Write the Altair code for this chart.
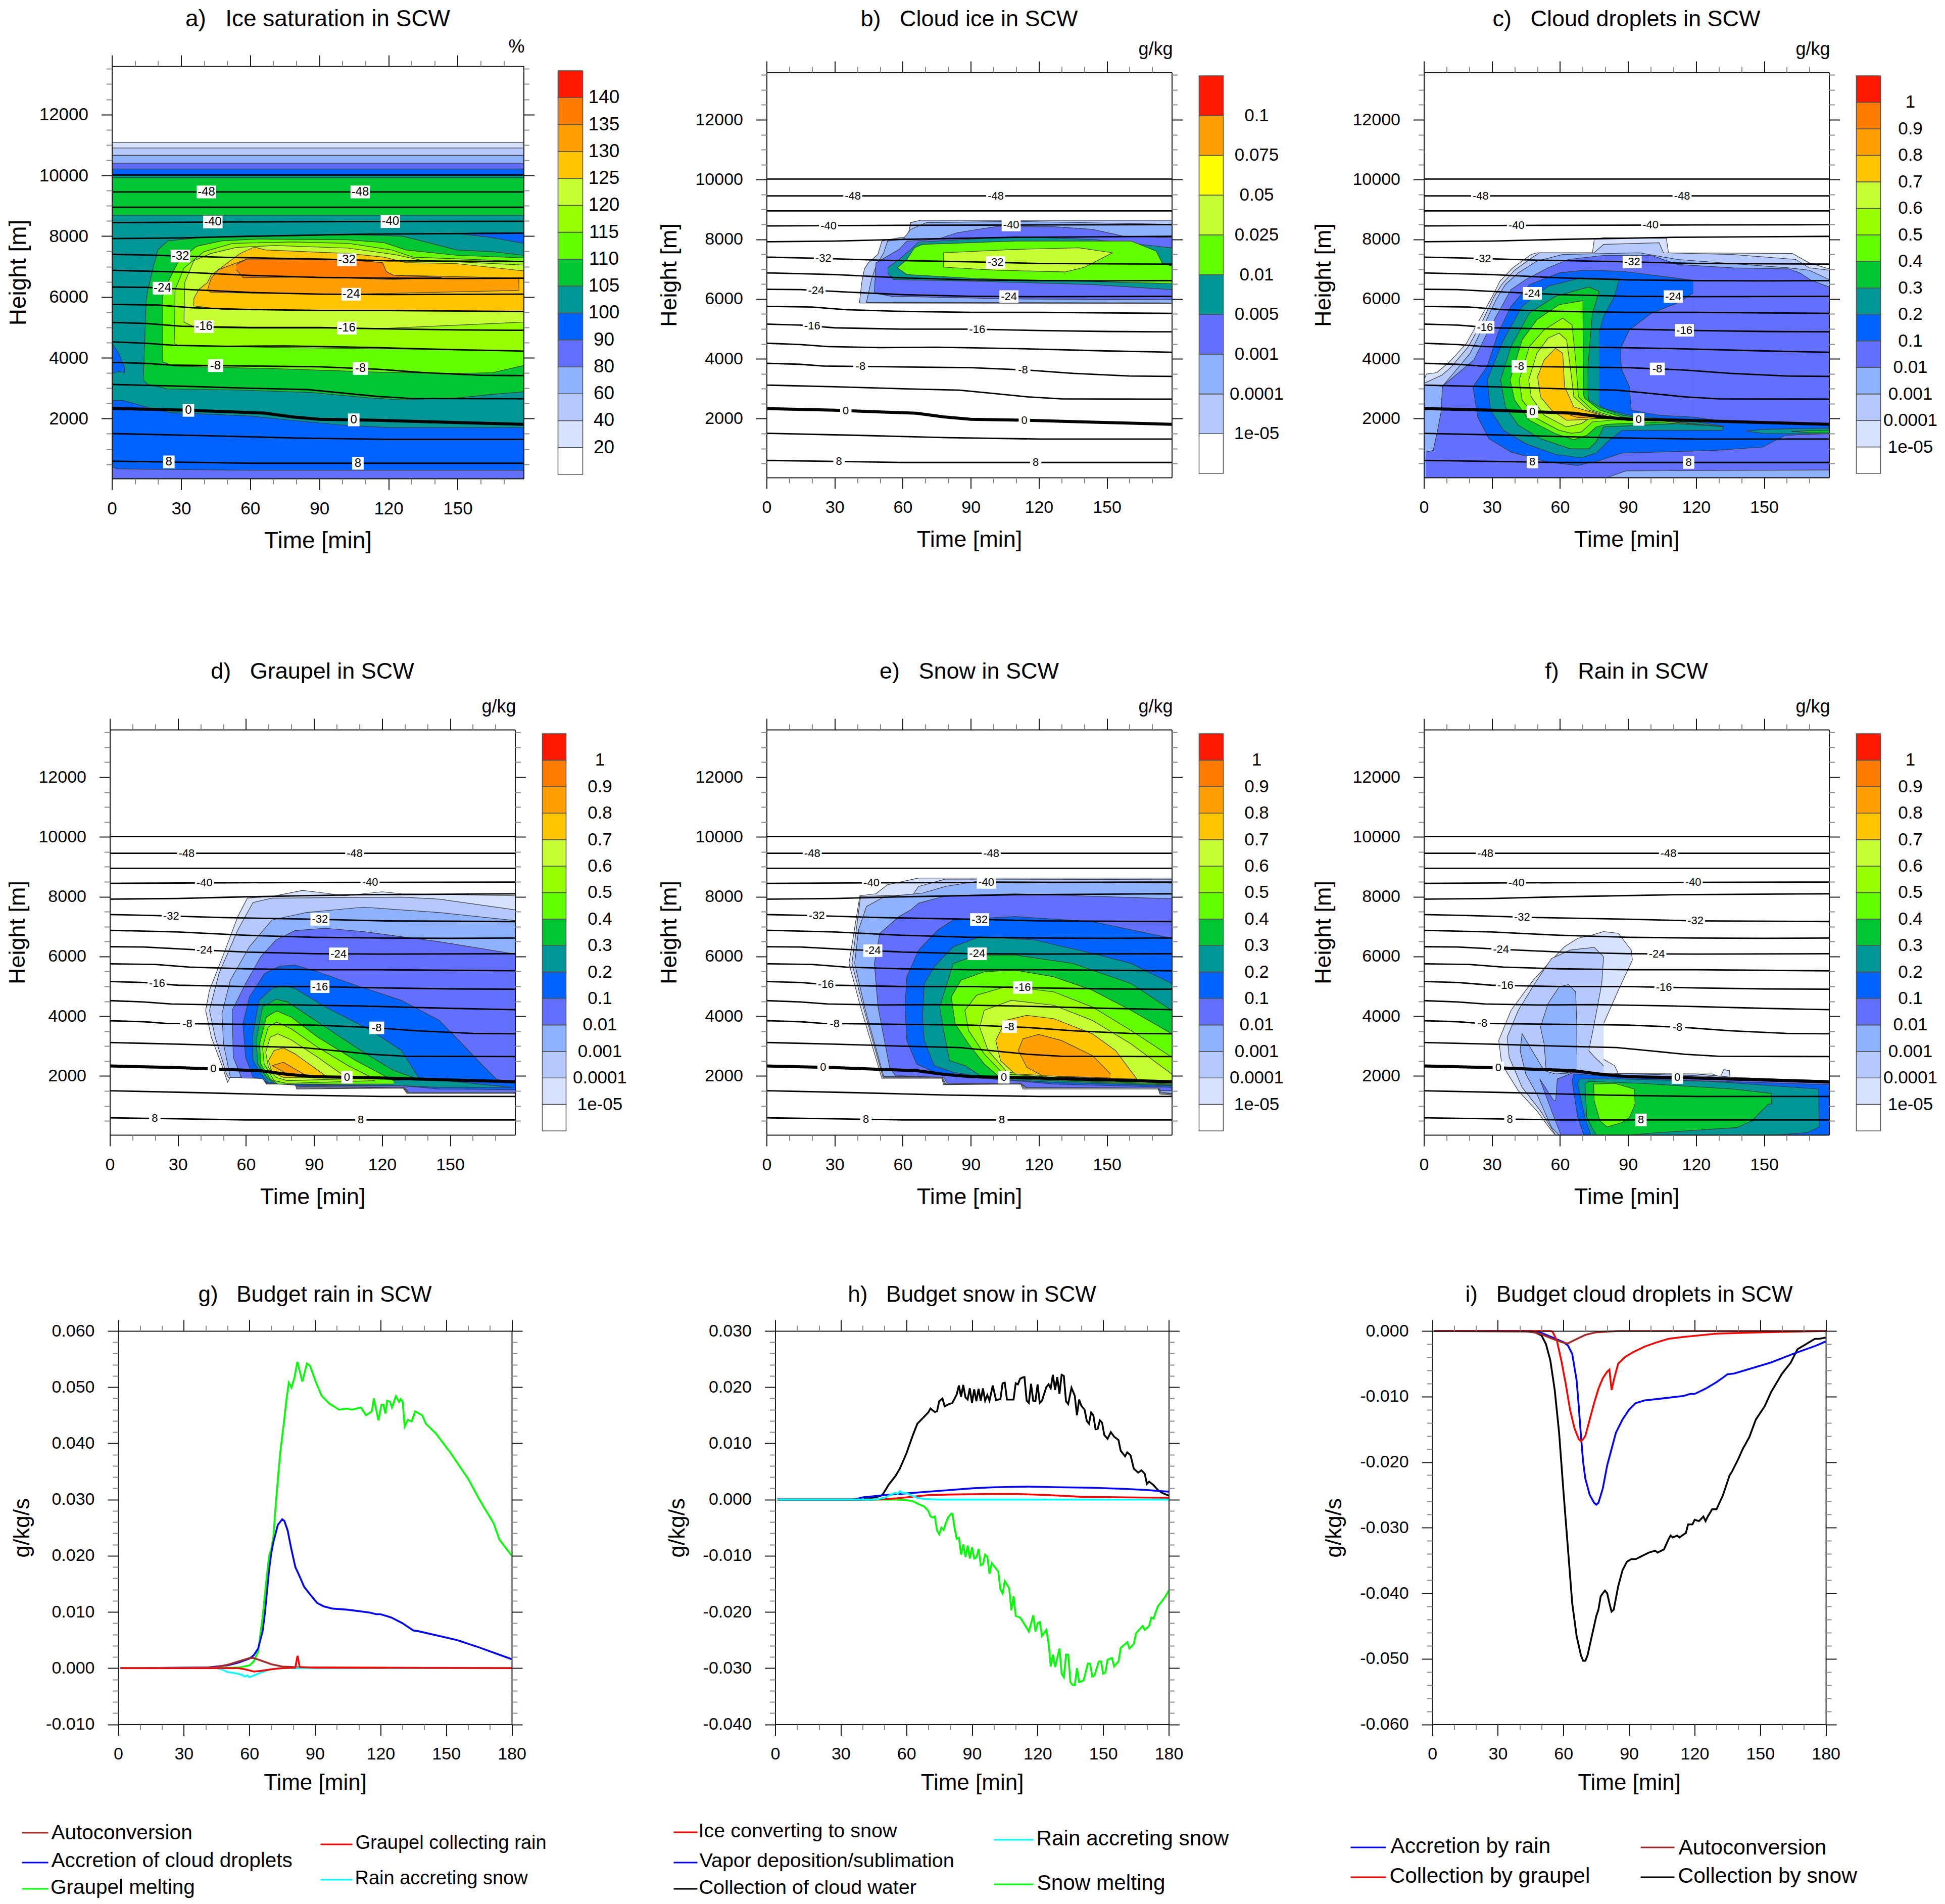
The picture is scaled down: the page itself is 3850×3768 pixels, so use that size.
import altair as alt
import numpy as np
import pandas as pd

FONT = "Liberation Sans"
LEVEL = ["#FFFFFF", "#D6E2FF", "#B5C9FF", "#8EB2FF", "#6370FF", "#0063FF", "#009696", "#00C633",
         "#63FF00", "#96FF00", "#C6FF33", "#FFC600", "#FFA000", "#FF7C00", "#FF1900"]
CB_B = ["#FFFFFF", "#B5C9FF", "#8EB2FF", "#6370FF", "#009696", "#63FF00", "#C6FF33", "#FFFF00", "#FFA000", "#FF1900"]
LAB_A = ["20", "40", "60", "80", "90", "100", "105", "110", "115", "120", "125", "130", "135", "140"]
LAB_B = ["1e-05", "0.0001", "0.001", "0.005", "0.01", "0.025", "0.05", "0.075", "0.1"]
LAB_C = ["1e-05", "0.0001", "0.001", "0.01", "0.1", "0.2", "0.3", "0.4", "0.5", "0.6", "0.7", "0.8", "0.9", "1"]

TEMP = {
    -52: [(0, 10015), (178.6, 10015)],
    -48: [(0, 9455), (178.6, 9455)],
    -44: [(0, 8950), (178.6, 8950)],
    -40: [(0, 8446), (60, 8470), (120, 8480), (178.6, 8490)],
    -36: [(0, 7919), (30, 7941), (60, 7997), (110, 8065), (178.6, 8098)],
    -32: [(0, 7403), (20, 7370), (50, 7302), (90, 7246), (120, 7190), (178.6, 7168)],
    -28: [(0, 6876), (30, 6820), (60, 6708), (90, 6641), (120, 6618), (150, 6607), (178.6, 6618)],
    -24: [(0, 6327), (15, 6316), (35, 6237), (60, 6148), (90, 6092), (120, 6080), (178.6, 6092)],
    -20: [(0, 5755), (20, 5733), (35, 5643), (60, 5587), (90, 5554), (120, 5554), (178.6, 5520)],
    -16: [(0, 5161), (15, 5128), (30, 5038), (60, 4993), (90, 4993), (120, 4948), (150, 4915), (178.6, 4903)],
    -12: [(0, 4522), (15, 4477), (27, 4410), (50, 4377), (75, 4388), (110, 4343), (150, 4264), (178.6, 4220)],
    -8: [(0, 3850), (15, 3816), (25, 3760), (50, 3737), (90, 3704), (115, 3625), (135, 3513), (160, 3424), (178.6, 3412)],
    -4: [(0, 3121), (30, 3065), (60, 2998), (85, 2953), (100, 2841), (115, 2729), (130, 2661), (178.6, 2650)],
    0: [(0, 2336), (30, 2280), (50, 2224), (66, 2179), (78, 2056), (90, 1978), (115, 1944), (140, 1888), (178.6, 1809)],
    4: [(0, 1507), (40, 1440), (80, 1361), (120, 1316), (178.6, 1316)],
    8: [(0, 600), (30, 567), (60, 531), (178.6, 531)],
}

TL_A = [(-48, 41), (-48, 107.7), (-40, 43.8), (-40, 120.8), (-32, 29.7), (-32, 101.9), (-24, 21.9), (-24, 103.8),
        (-16, 39.9), (-16, 101.9), (-8, 44.9), (-8, 107.8), (0, 33.2), (0, 104.9), (8, 24.7), (8, 106.7)]
TL_B = [(-48, 38), (-48, 101), (-40, 27.3), (-40, 107.8), (-32, 25), (-32, 100.9), (-24, 21.8), (-24, 106.8),
        (-16, 20.1), (-16, 92.8), (-8, 41.4), (-8, 113), (0, 34.9), (0, 113.6), (8, 31.9), (8, 118.6)]
TL_C = [(-48, 25), (-48, 113.8), (-40, 40.8), (-40, 99.9), (-32, 26.1), (-32, 91.8), (-24, 47.8), (-24, 109.9),
        (-16, 26.9), (-16, 114.8), (-8, 42), (-8, 102.9), (0, 47.8), (0, 94.7), (8, 47.8), (8, 116.7)]
TL_D = [(-48, 33.8), (-48, 107.9), (-40, 41.7), (-40, 114.7), (-32, 27), (-32, 92.6), (-24, 41.7), (-24, 100.8),
        (-16, 20.8), (-16, 92.6), (-8, 34.2), (-8, 117.6), (0, 45.6), (0, 104.5), (8, 19.8), (8, 110.6)]
TL_E = [(-48, 20.1), (-48, 99), (-40, 46.2), (-40, 96.8), (-32, 22.1), (-32, 93.9), (-24, 46.8), (-24, 92.8),
        (-16, 26.1), (-16, 112.9), (-8, 30), (-8, 107), (0, 24.9), (0, 104.6), (8, 43.8), (8, 103.7)]
TL_F = [(-48, 27.1), (-48, 107.8), (-40, 40.8), (-40, 118.7), (-32, 43.3), (-32, 119.7), (-24, 34), (-24, 102.7),
        (-16, 35.9), (-16, 105.8), (-8, 25.8), (-8, 111.8), (0, 32.8), (0, 111.7), (8, 37.9), (8, 95.7)]

T_END = 178.6
Z0 = 28


def flat(z, lo=Z0):
    return [(0, z), (T_END, z)], [(0, lo), (T_END, lo)]


# each entry: (colour level, upper edge [(t, z)...], lower edge [(t, z)...])
POLY_A = [
    (1, *flat(11088)), (2, *flat(10898)), (3, *flat(10660)), (4, *flat(10400)),
    (5, [(0, 10209), (T_END, 10209)], [(0, 420), (2, 350), (10, 337), (60, 300), (T_END, 300)]),
    (6, [(0, 9995), (T_END, 9995)], [(0, 2594), (5, 2594), (15, 2380), (25, 2200), (60, 2083), (75, 1964), (100, 1786), (120, 1703), (T_END, 1703)]),
    (7, [(0, 9924), (T_END, 9924)], [(0, 8689), (T_END, 8689)]),
    (5, [(0, 4480), (3, 4150), (5.4, 3700), (5.5, 3600)], [(0, 3480), (3, 3550), (5.4, 3510), (5.5, 3600)]),
    (5, [(150, 8080), (160, 8110), (T_END, 8118)], [(150, 8080), (160, 8000), (165, 7950), (T_END, 7762)]),
    (7, [(13.6, 3271), (14.9, 5885), (15.6, 6241), (18.3, 7073), (19.9, 7548), (24.3, 7845), (40, 7964), (71, 8000), (102.5, 8047), (126, 8000), (138.5, 7762), (149.5, 7548), (165, 7489), (T_END, 7370)],
     [(13.6, 3271), (15.6, 3128), (24, 2974), (55, 2938), (86.9, 2855), (111.9, 2677), (126, 2617), (149.5, 2677), (165, 2796), (T_END, 2879)]),
    (8, [(21.9, 3865), (21.95, 6003), (24.3, 6479), (29, 7192), (36.8, 7667), (47.7, 7845), (63.4, 7904), (102.5, 7880), (118, 7786), (127.5, 7548), (149.5, 7370), (T_END, 7286)],
     [(21.9, 3865), (27, 3723), (71, 3640), (118, 3520), (149.5, 3485), (165, 3510), (T_END, 3746)]),
    (9, [(27, 4470), (27.2, 5053), (27.4, 6241), (31.3, 6954), (39.9, 7489), (52.4, 7762), (79, 7809), (102.5, 7762), (121.3, 7548), (130.7, 7310), (T_END, 7168)],
     [(27, 4470), (29, 4400), (71, 4340), (134, 4280), (T_END, 4221)]),
    (10, [(31.3, 5172), (31.35, 5647), (31.6, 6480), (35.5, 7192), (43, 7429), (54, 7631), (71, 7691), (102.5, 7607), (122.8, 7393), (133.8, 7215), (T_END, 7049)],
     [(31.3, 5172), (36, 5000), (60, 4970), (120, 4970), (T_END, 5172)]),
    (11, [(35.5, 5706), (35.55, 5944), (37.6, 6241), (41.5, 6479), (43, 6716), (55.6, 7429), (61.8, 7643), (66.5, 7548), (102.5, 7429), (118, 7310), (127.5, 7132), (149.5, 7096), (T_END, 6859)],
     [(35.5, 5706), (47.7, 5590), (102.5, 5552), (T_END, 5528)]),
    (12, [(41.5, 6241), (43, 6600), (46.2, 6895), (58.7, 7250), (102.5, 7215), (117.4, 7132), (119, 6835), (122, 6716), (176.5, 6621), (176.6, 6217)],
     [(41.5, 6241), (43, 6146), (102.5, 6087), (176.5, 6217), (176.6, 6217)]),
    (13, [(54, 7073), (58.7, 7250), (102.5, 7215), (117.4, 7132), (119, 6835), (122, 6716), (143, 6640)],
     [(54, 6895), (57, 6633), (86.9, 6657), (122, 6574), (143, 6640)]),
]

POLY_B = [
    (2, [(40.9, 5867), (41.9, 6540), (43.1, 7011), (44.8, 7213), (49, 7493), (50.8, 7941), (56.7, 8031), (62.2, 8087), (63.5, 8558), (67.8, 8636), (T_END, 8636)],
     [(40.9, 5867), (T_END, 5856)]),
    (3, [(44, 5890), (46.2, 6652), (48.2, 7100), (51.6, 7549), (53.3, 7941), (60.1, 7997), (63.5, 8333), (70.4, 8558), (109.5, 8600), (T_END, 8502)],
     [(44, 5890), (T_END, 5870)]),
    (4, [(47.4, 6204), (47.8, 6652), (48.2, 7213), (58.4, 7661), (61.8, 7941), (75, 7997), (84, 8221), (101, 8423), (126.6, 8423), (143.6, 8333), (157, 8109), (T_END, 8053)],
     [(47.4, 6204), (55, 6092), (109.5, 6002), (T_END, 5980)]),
    (6, [(53.3, 7045), (58.4, 7325), (63.5, 7661), (67, 7908), (109.5, 8087), (143.6, 7997), (T_END, 7717)],
     [(53.3, 6876), (55.9, 6652), (92.5, 6596), (143.6, 6484), (T_END, 6316)]),
    (8, [(57.6, 7045), (61.8, 7325), (65.2, 7717), (68.7, 7829), (109.5, 7941), (160.6, 7941), (171.7, 7605), (174.3, 7213), (T_END, 7101)],
     [(57.6, 7045), (61.8, 6820), (92.5, 6686), (T_END, 6517)]),
    (10, [(77.9, 7067), (78, 7549), (109.5, 7661), (137.6, 7717), (152.5, 7549)],
     [(77.9, 7067), (101, 6966), (131.7, 6910), (140.2, 7067), (152.5, 7549)]),
]

POLY_C = [
    (1, [(0, 3289), (1.1, 3491), (5.7, 3536), (11.4, 3906), (18.8, 4522), (25.3, 5419), (30.2, 6092), (33.5, 6596), (39.2, 7045), (47.3, 7493), (49.8, 7549), (74.3, 7549), (75.1, 7997), (79.2, 8053), (106.9, 8031), (107.8, 7549), (162.4, 7527), (169.8, 7213), (T_END, 7011)], [(0, Z0), (T_END, Z0)]),
    (2, [(0, 3180), (8, 3457), (12.2, 3738), (19.6, 4410), (26.1, 5307), (31, 6092), (34.3, 6484), (40, 6966), (48.2, 7415), (51, 7549), (75, 7549), (79.2, 7829), (103.7, 7885), (105.6, 7549), (136, 7493), (164, 7325), (169.8, 7045), (T_END, 6966)], [(0, Z0), (T_END, Z0)]),
    (3, [(0, 3120), (8.2, 3087), (13, 3513), (20.4, 4186), (26.9, 5195), (31.8, 5980), (35.9, 6484), (41.6, 6876), (49.8, 7269), (61.2, 7493), (95, 7549), (111.8, 7325), (160.8, 7045), (169.8, 6966), (T_END, 6652)], [(0, Z0), (T_END, Z0)]),
    (4, [(0.8, 880), (4.1, 935), (5.7, 1490), (7.5, 2180), (8.2, 3087), (22, 3962), (28.6, 4971), (33.5, 5643), (38.4, 6316), (44.9, 6652), (54.7, 7045), (63.7, 7325), (79.2, 7460), (100.4, 7460), (111.8, 7157), (136.3, 7045), (160.8, 7011), (165.7, 6876), (170.6, 6630), (T_END, 6406)],
     [(0.8, Z0), (80.8, Z0), (89, 250), (T_END, 280)]),
    (5, [(21.6, 3065), (27.8, 3738), (32.7, 4859), (38.4, 5755), (46.5, 6484), (59.6, 6876), (71, 6966), (87.3, 6932), (118.7, 6630), (118.7, 2050), (128.2, 1944), (T_END, 1776)],
     [(21.6, 3065), (23.7, 2056), (28.6, 1327), (38.4, 879), (54.7, 543), (67.8, 431), (77.6, 599), (87.3, 845), (103.7, 879), (128.2, 935), (149.4, 1047), (159.2, 1440), (T_END, 1495)]),
    (4, [(86.5, 4100), (87, 4400), (90.6, 4971), (100.4, 5531), (111.8, 5868), (118.7, 6204)],
     [(86.5, 4100), (87.3, 3625), (90.6, 3065), (91.4, 2280), (103.7, 2112), (118.7, 2050)]),
    (6, [(27.9, 3289), (35.1, 4634), (43.3, 5755), (54.7, 6428), (69.4, 6708), (86.2, 6675), (86.2, 2200), (90.6, 2112), (120, 1888), (132.2, 1742)],
     [(27.9, 3289), (29.4, 2280), (35.1, 1608), (44.9, 1159), (58, 801), (69.4, 688), (75.9, 845), (80.8, 1215), (87.3, 1608), (131.4, 1608), (132.2, 1742)]),
    (5, [(74.6, 3400), (75.1, 4298), (79.2, 5419), (84, 6092), (86.2, 6675)],
     [(74.6, 3400), (74.7, 2617), (79.2, 2336), (86.2, 2200)]),
    (6, [(142, 1580), (150, 1640), (T_END, 1680)], [(142, 1580), (150, 1500), (T_END, 1490)]),
    (7, [(33.8, 3289), (38.4, 4410), (46.5, 5531), (58, 6092), (72.7, 6406), (77.2, 6260), (77.2, 2392), (87.3, 2112), (103.7, 1944), (132.2, 1730)],
     [(33.8, 3289), (35.9, 2392), (41.6, 1776), (51.4, 1327), (64.5, 991), (72.7, 991), (75.9, 1215), (79.2, 1720), (111.8, 1832), (132.2, 1730)]),
    (6, [(72.3, 3738), (74.3, 5531), (77.2, 6260)], [(72.3, 3738), (72.4, 2800), (72.7, 2617), (77.2, 2392)]),
    (7, [(162, 1570), (170, 1600), (T_END, 1610)], [(162, 1570), (170, 1530), (T_END, 1520)]),
    (8, [(38, 3289), (43.3, 4634), (49.8, 5307), (59.6, 5811), (70.1, 5946), (70.3, 2800), (71, 2673), (77.6, 2280), (87.3, 2056), (102, 1944), (123.3, 1775)],
     [(38, 3289), (40, 2617), (46.5, 1944), (58, 1495), (66.1, 1294), (71.8, 1440), (75.9, 1720), (80.8, 1809), (102, 1880), (123.3, 1775)]),
    (9, [(42, 3289), (46.5, 4410), (53, 4971), (61.2, 5363), (65.3, 5139), (66.9, 3962), (68.1, 2729), (74.3, 2280), (84, 2056), (102, 1930)],
     [(42, 3289), (43.3, 2617), (49.8, 2000), (59.6, 1608), (65, 1510), (69.4, 1551), (74.3, 1888), (85, 1960), (102, 1930)]),
    (10, [(46.2, 3289), (49.8, 4186), (54.7, 4690), (59.6, 4859), (62.9, 4634), (64.5, 3738), (66.1, 2729), (72.7, 2280), (84, 2000)],
     [(46.2, 3289), (47.3, 2729), (53, 2112), (62.8, 1720), (69.4, 1832), (72.7, 2000), (84, 2000)]),
    (11, [(50.1, 3401), (53, 3962), (58, 4354), (61.2, 4186), (62, 3065), (66.1, 2392), (80.8, 2056)],
     [(50.1, 3401), (51.4, 2729), (56.3, 2280), (62.9, 1944), (71, 1966), (80.8, 2056)]),
    (12, [(64.5, 2112), (68, 2170), (75, 2140), (78, 2090)], [(64.5, 2112), (68, 2030), (75, 2056), (78, 2090)]),
]

POLY_D = [
    (1, [(42.2, 4197), (43.9, 4870), (49.7, 5991), (56.4, 7336), (60.6, 7953), (71.5, 8009), (84.9, 8210), (95, 8120), (103.4, 8031), (120.1, 8166), (128.5, 8098), (T_END, 8031)],
     [(42.2, 4197), (44.7, 3300), (49.7, 2291), (51.9, 1787), (53, 1955), (67.3, 1933), (69, 1731), (81.6, 1731), (82.4, 1563), (129.3, 1596), (131, 1417), (T_END, 1417)]),
    (2, [(43.9, 4197), (48.1, 5430), (56.4, 6888), (63.1, 7807), (71.5, 7953), (128.5, 7986), (145.2, 7919), (T_END, 7560)],
     [(43.9, 4197), (46.4, 3300), (51.4, 2067), (52.3, 1955), (67.3, 1933), (69, 1753), (81.6, 1753), (82.4, 1585), (129.3, 1618), (131, 1451), (T_END, 1451)]),
    (3, [(49.4, 4085), (53.1, 5206), (61.5, 6327), (71.5, 7224), (86.6, 7471), (111.7, 7650), (145.2, 7471), (T_END, 7202)],
     [(49.4, 4085), (50.1, 3076), (53.1, 1955), (67.3, 1933), (69, 1776), (81.6, 1776), (82.8, 1618), (129.3, 1640), (131, 1473), (T_END, 1473)]),
    (4, [(53.9, 4197), (59.8, 5094), (66.5, 5991), (73.2, 6551), (81.6, 6865), (95, 6944), (111.7, 6832), (145.2, 6495), (T_END, 6080)],
     [(53.9, 4197), (54.4, 2628), (58.1, 1933), (67.3, 1922), (69, 1753), (81.6, 1731), (82.8, 1640), (130, 1618), (131.7, 1451), (T_END, 1451)]),
    (5, [(58.6, 3749), (61.5, 4645), (68.2, 5430), (74.9, 5677), (81.6, 5711), (91.6, 5486), (108.4, 5038), (128.5, 4533), (145.2, 3861), (155.3, 3076), (163.7, 2404), (170.4, 1899), (T_END, 1753)],
     [(58.6, 3749), (59.8, 2628), (63.1, 1955), (67.3, 1900), (69.5, 1753), (81.6, 1697), (84.9, 1664), (128.5, 1675), (145.2, 1563), (T_END, 1540)]),
    (6, [(62.8, 3300), (65.7, 4533), (71.5, 4926), (76.5, 5027), (81.6, 4926), (95, 4309), (115.1, 3525), (128.5, 2852), (136, 1955), (145.2, 1865), (177, 1619)],
     [(62.8, 3300), (63.1, 2516), (66.5, 2067), (69.8, 1787), (86.6, 1709), (128.5, 1675), (145.2, 1619), (177, 1619)]),
    (7, [(64.5, 3188), (67.3, 4309), (73.2, 4567), (78.2, 4477), (95, 3637), (111.7, 2796), (125.1, 2179), (136, 1899)],
     [(64.5, 3188), (65.2, 2404), (69, 1955), (72.4, 1765), (95, 1709), (136, 1899)]),
    (8, [(66, 3076), (69, 3973), (73.5, 4175), (79.9, 3973), (91.6, 3300), (108.4, 2516), (125.1, 1843)],
     [(66, 3076), (66.5, 2404), (70.7, 1899), (74, 1731), (125.1, 1731)]),
    (9, [(67.3, 2964), (69.8, 3637), (73.5, 3805), (79.9, 3581), (91.6, 2964), (105, 2347), (116.8, 1899)],
     [(67.3, 2964), (68, 2404), (72.4, 1843), (78.2, 1753), (116.8, 1843)]),
    (10, [(68.7, 2796), (70.7, 3300), (74, 3412), (79.9, 3211), (91.6, 2628), (102.5, 2045)],
     [(68.7, 2796), (69.9, 2291), (73.2, 1955), (78.2, 1843), (102.5, 1900)]),
    (11, [(69.9, 2516), (72.4, 2852), (76.5, 2942), (81.6, 2740), (95, 2011)],
     [(69.9, 2516), (71.5, 2123), (76.5, 1955), (95, 1955)]),
    (12, [(71.5, 2348), (76.5, 2460), (81.6, 2235), (86.6, 2011)], [(71.5, 2348), (78.2, 2067), (86.6, 2000)]),
]

POLY_E = [
    (1, [(36.3, 5767), (41.1, 8031), (48.2, 8098), (53.3, 8401), (67, 8625), (T_END, 8625)],
     [(36.3, 5767), (41.4, 4309), (50.8, 1922), (77.2, 1922), (78, 1709), (112, 1731), (113, 1563), (172.6, 1563), (173.4, 1395), (T_END, 1361)]),
    (2, [(37.6, 5767), (41.4, 8009), (64.4, 8064), (67, 8345), (78.9, 8592), (T_END, 8570)],
     [(37.6, 5767), (42.6, 4309), (51.3, 1955), (77.2, 1955), (78.4, 1731), (112, 1753), (113.4, 1596), (172.6, 1596), (173.4, 1428), (T_END, 1395)]),
    (3, [(38.8, 5767), (40.5, 6888), (44, 7672), (51.6, 7986), (68.7, 8120), (78.9, 8345), (92.5, 8513), (T_END, 8457)],
     [(38.8, 5767), (43.2, 4309), (51.6, 1978), (77.2, 1978), (78.9, 1731), (112, 1776), (113.8, 1619), (172.6, 1619), (173.8, 1451), (T_END, 1417)]),
    (4, [(47.5, 5767), (49.9, 6776), (58.4, 7336), (63.5, 7560), (67, 7784), (78.9, 8031), (109.5, 8098), (T_END, 7930)],
     [(47.5, 5767), (49.1, 4309), (54.2, 2291), (56.7, 2011), (78, 1955), (79.7, 1753), (112, 1753), (114.6, 1619), (172.6, 1596), (173.8, 1507), (T_END, 1507)]),
    (5, [(61, 4309), (61.8, 5318), (67, 6215), (75.5, 6888), (82.3, 7224), (109.5, 7336), (143.6, 7168), (T_END, 6607)],
     [(61, 4309), (61.8, 3188), (66.1, 2404), (73.8, 2123), (84, 1978), (109.5, 1843), (126.6, 1731), (T_END, 1619)]),
    (6, [(68.7, 3973), (69.5, 5094), (73.8, 5654), (82.3, 6327), (94.2, 6664), (118, 6551), (143.6, 6103), (160.6, 5767), (T_END, 5094)],
     [(68.7, 3973), (69.5, 3188), (73.8, 2347), (82.3, 2123), (101, 1899), (126.6, 1787), (T_END, 1675)]),
    (7, [(76.3, 4309), (82.3, 5767), (92.5, 6047), (109.5, 6047), (135, 5767), (160.6, 5094), (T_END, 4197)],
     [(76.3, 4309), (78, 3525), (80.6, 2516), (87.4, 2347), (94.2, 2011), (109.5, 1899), (143.6, 1787), (T_END, 1697)]),
    (8, [(81.4, 4646), (85.7, 5206), (95.9, 5486), (109.5, 5542), (126.6, 5318), (143.6, 4870), (160.6, 4197), (T_END, 3412)],
     [(81.4, 4646), (83.1, 3749), (89, 3076), (95.9, 2404), (102.7, 1955), (143.6, 1820), (T_END, 1731)]),
    (9, [(87.4, 4197), (92.5, 4702), (106.1, 5004), (126.6, 4814), (143.6, 4309), (160.6, 3525), (T_END, 2628)],
     [(87.4, 4197), (89, 3525), (95.9, 2740), (104.4, 2067), (143.6, 1865), (T_END, 1753)]),
    (10, [(93.9, 3637), (95.9, 4197), (107.8, 4533), (126.6, 4365), (143.6, 3861), (160.6, 3076), (T_END, 2067)],
     [(93.9, 3637), (97.6, 2852), (106.1, 2123), (143.6, 1899), (T_END, 1843)]),
    (11, [(101, 3188), (105.3, 3861), (114.6, 4029), (126.6, 3917), (143.6, 3412), (153.8, 2852), (163.2, 1899)],
     [(101, 3188), (103.1, 2516), (109.5, 2067), (143.6, 1933), (163.2, 1899)]),
    (12, [(110.9, 2852), (113, 3244), (119.8, 3390), (130, 3188), (143.6, 2684), (151.6, 2067)],
     [(110.9, 2852), (114.7, 2291), (121.5, 2011), (151.6, 1933)]),
]

POLY_F = [
    (1, [(33, 3188), (38.4, 4197), (48.2, 5206), (56.3, 5879), (62, 6327), (67.8, 6607), (74.3, 6720), (79.2, 6832), (85.7, 6776), (91.4, 6215), (91.9, 5879)],
     [(33, 3188), (34.3, 2404), (41.6, 1507), (49.8, 834), (56.3, 161), (58, Z0), (91.9, Z0)]),
    (0, [(76.7, 2964), (79.2, 3749), (85.7, 4870), (91.9, 5879)], [(76.7, 2964), (77.6, 2628), (84.1, 2348), (85.7, 2067), (91.9, 2067)]),
    (1, [(62, 1900), (85.7, 2067), (127.3, 2067), (130.6, 1955), (132.2, 2213), (134.7, 2179), (134.9, 1955), (T_END, 1843)], [(62, Z0), (T_END, Z0)]),
    (2, [(36.7, 3300), (41.6, 4197), (49.8, 5206), (56.3, 5935), (64.5, 6215), (75.1, 6305), (79.2, 5991)],
     [(36.7, 3300), (37.6, 2628), (43.3, 1619), (51.4, 834), (58, Z0), (79.2, Z0)]),
    (1, [(72.7, 2852), (75.1, 3749), (78.4, 5094), (79.2, 5991)], [(72.7, 2852), (75, 2650), (78.4, 2404), (79.2, 2330)]),
    (2, [(64.5, 2090), (120, 2067), (136.3, 1955), (T_END, 1820)], [(64.5, Z0), (T_END, Z0)]),
    (3, [(51.4, 3637), (54.7, 4421), (59.6, 4982), (63.7, 5060), (66.9, 4814), (67.4, 3749), (67.45, 2740)],
     [(51.4, 3637), (53, 3076), (53.9, 2179), (67.45, 2090)]),
    (3, [(42.4, 2852), (43.3, 3412), (53, 2179), (58, 2067), (67.8, 2123), (120, 2011), (136.3, 1922), (T_END, 1776)],
     [(42.4, 2852), (44.9, 2067), (49.8, 1395), (56.3, 274), (59.6, Z0), (T_END, Z0)]),
    (4, [(51.1, 1899), (57.3, 1170), (58.1, 1170), (58.8, 1899), (66.1, 2123), (87.3, 2011), (126.5, 1899), (T_END, 1753)],
     [(51.1, 1899), (56.3, 834), (60.4, Z0), (T_END, Z0)]),
    (5, [(65.3, 1843), (66.1, 2067), (87.3, 1955), (120, 1843), (T_END, 1709)], [(65.3, 1843), (67.8, 610), (70.5, Z0), (T_END, Z0)]),
    (6, [(67.8, 1731), (68.6, 1899), (87.3, 1899), (126.5, 1820), (173.9, 1563), (174.2, 498), (174.3, 300)],
     [(67.8, 1731), (71, 610), (73.5, Z0), (155.1, Z0), (169, 105), (174.3, 300)]),
    (7, [(71, 1731), (72.7, 1820), (95.5, 1753), (136.3, 1563), (153.1, 1417), (153.2, 1058)],
     [(71, 1731), (71.8, 610), (75.9, Z0), (90.6, Z0), (103.7, 105), (138, 274), (144.5, 498), (151.8, 1058), (153.2, 1058)]),
    (8, [(74.8, 1731), (84.1, 1753), (92.7, 1563), (93.1, 1058)],
     [(74.8, 1731), (75.1, 1170), (77.6, 498), (80.8, 296), (87.3, 442), (90.6, 610), (93.1, 1058)]),
]

G_GREEN = [(1, 0), (45, 0), (55, .0001), (60, .0005), (62, .0012), (64, .003), (66, .009), (68, .0165), (69, .02), (70, .0212), (71, .0235), (72, .029), (74, .038), (76, .0445), (77, .048), (78, .0508), (79.2, .0499), (80.6, .0517), (81.9, .0545), (84.2, .051), (86.3, .0542), (87.7, .0538), (90.3, .051), (93, .0485), (96.5, .0471), (101, .046), (104.5, .0462), (107, .046), (111, .0464), (113.3, .045), (116, .0457), (116.9, .048), (119, .0441), (120.4, .0469), (121.3, .0469), (122.2, .0453), (123, .0476), (124.3, .0474), (125.2, .0464), (127, .0484), (128.4, .0474), (129.2, .0479), (130.1, .0474), (131, .043), (132.4, .0442), (134.2, .0439), (135.8, .0457), (139, .045), (140.7, .0435), (145.2, .0418), (152.2, .0382), (155.8, .0361), (160.2, .0336), (164.6, .0304), (167.3, .0286), (171.7, .0258), (174.3, .0229), (180, .02)]
G_BLUE = [(1, 0), (40, .0001), (50, .0005), (55, .001), (60, .0017), (62, .0023), (64, .0035), (66, .0065), (67, .0095), (68, .0135), (69, .0175), (70, .0205), (71, .0225), (73, .0255), (75, .0265), (76, .0262), (77.5, .0245), (79, .0215), (81, .018), (83, .0163), (85, .0145), (88, .013), (91, .0116), (94, .011), (98, .0106), (105, .0104), (115, .0099), (118, .0096), (120, .0096), (125, .009), (130, .008), (135, .0067), (137, .0066), (145, .0059), (155, .005), (165, .0037), (175, .0023), (180, .0016)]
G_BROWN = [(1, 0), (40, .0001), (45, .0002), (50, .0006), (55, .0012), (60, .0018), (62, .0018), (65, .0014), (70, .0007), (75, .0003), (80, .0002), (85, .0001), (180, 0)]
G_RED = [(1, 0), (55, 0), (58, -.0002), (62, -.0006), (65, -.0005), (70, -.0002), (75, 0), (81, .0001), (82, .0022), (83, .0002), (90, .0001), (180, 0)]
G_CYAN = [(1, 0), (45, 0), (48, -.0003), (50, -.0007), (52, -.0008), (55, -.001), (57, -.0013), (58, -.0015), (59, -.0013), (60, -.0016), (62, -.0013), (65, -.0008), (68, -.0004), (70, -.0002), (75, 0), (180, 0)]

H_BLACK = [(1, 0), (40, 0), (47, .0005), (49, .0008), (52, .0027), (55, .0042), (57, .0055), (60, .0082), (63, .0115), (65, .0135), (68, .0147), (70, .0155), (71, .0162), (73, .0156), (74, .0157), (75, .0175), (76.5, .018), (77.5, .0166), (79, .0169), (81, .0172), (83, .0187), (84, .0203), (85, .0183), (86, .0204), (87, .0182), (88, .0178), (89, .0198), (90, .0172), (91, .0196), (92, .0175), (93, .0197), (94, .0176), (95, .0198), (96, .0176), (97, .0186), (98, .0176), (99.5, .0203), (101, .0177), (102, .0178), (103, .0179), (104, .0207), (105, .0208), (106, .0178), (107, .0178), (109, .0178), (110, .0207), (111, .0205), (112, .0215), (113, .0217), (114, .0218), (115, .0176), (116, .0172), (117, .0206), (118, .0176), (119, .0175), (120, .0205), (121, .0172), (122, .0176), (124, .02), (125, .0205), (126, .0198), (127, .0222), (128, .0195), (129, .0218), (130, .0188), (131, .0222), (132, .022), (133, .0175), (134, .017), (135.5, .0199), (137, .0185), (138, .015), (139, .0178), (140, .0167), (141.5, .016), (142.5, .014), (143.5, .0135), (144.5, .0155), (145.5, .015), (146.5, .0125), (147.5, .0126), (148.5, .0141), (149.5, .0137), (150.5, .0115), (152, .0108), (153.5, .012), (155, .0112), (157, .0106), (158, .0087), (160, .0077), (161, .0084), (162.5, .0079), (164, .0055), (166, .0048), (167.5, .0052), (169, .0046), (170, .0028), (171, .0032), (173, .0026), (175, .0017), (177, .0012), (180, .0007)]
H_BLUE = [(1, 0), (36, 0), (40, .0004), (50, .0008), (60, .0011), (70, .0014), (80, .0017), (90, .002), (100, .0022), (115, .0023), (130, .0022), (145, .0021), (160, .0019), (170, .0017), (180, .0014)]
H_RED = [(1, 0), (45, 0), (55, .0002), (60, .0004), (70, .0008), (80, .0009), (100, .001), (110, .001), (125, .0008), (140, .0005), (160, .0004), (180, .0003)]
H_CYAN = [(1, 0), (45, 0), (50, .0003), (53, .0009), (55, .0012), (56, .001), (57, .0015), (58, .0012), (60, .0012), (62, .0008), (65, .0003), (68, .0001), (75, 0), (180, 0)]
H_GREEN = [(1, 0), (55, 0), (60, -.0001), (63, -.0003), (66, -.0009), (68, -.0012), (70, -.002), (71, -.003), (72, -.0032), (73, -.003), (74, -.0055), (75, -.0062), (76, -.005), (77, -.0054), (78, -.0042), (79, -.0032), (80.5, -.0025), (81, -.0025), (82, -.005), (83, -.007), (84, -.0068), (85, -.0098), (86, -.008), (87, -.0102), (88, -.0082), (89, -.0105), (90, -.0085), (91, -.0105), (92, -.0103), (93, -.0088), (94, -.0117), (95, -.0115), (96, -.0098), (97, -.0102), (98, -.0132), (99, -.0113), (100, -.0118), (102, -.0128), (103, -.016), (104, -.0167), (105, -.0145), (107, -.0158), (108, -.0197), (109, -.0172), (110, -.0207), (112, -.021), (114, -.0222), (116, -.0235), (118, -.0206), (119, -.0235), (120, -.022), (121, -.0218), (122, -.0243), (124, -.0232), (125, -.0255), (126, -.0297), (127, -.0276), (128, -.0298), (130, -.0265), (131, -.031), (132, -.0316), (133, -.0276), (134, -.0276), (135, -.0325), (136, -.033), (137, -.033), (138, -.03), (139, -.0325), (141, -.0322), (143, -.0292), (144, -.0292), (145, -.0315), (146, -.0313), (148, -.0288), (149, -.0288), (150, -.031), (151, -.0308), (152, -.0285), (154, -.0282), (155, -.0297), (157, -.0288), (158, -.0264), (161, -.0254), (162, -.0265), (164, -.0257), (165, -.0238), (168, -.0225), (169, -.0232), (171, -.0225), (172, -.021), (173, -.0212), (175, -.019), (178, -.0175), (180, -.0162)]

I_BLACK = [(1, 0), (40, 0), (47, -.0002), (50, -.0007), (52, -.002), (54, -.0045), (56, -.009), (58, -.0155), (60, -.0245), (62, -.033), (64, -.0415), (66, -.0465), (68, -.0495), (69, -.0503), (70, -.0503), (71, -.0495), (73, -.0465), (75, -.0435), (76, -.0425), (77, -.0405), (78, -.04), (79, -.0396), (80, -.04), (81, -.0415), (82, -.0428), (83, -.0425), (85, -.039), (87, -.0365), (89, -.0352), (91, -.0348), (93, -.0348), (96, -.0343), (99, -.0338), (102, -.0335), (103, -.0338), (106, -.0333), (108, -.0318), (109, -.0312), (110, -.0315), (112, -.0312), (113, -.0315), (116, -.0308), (117, -.0295), (119, -.0295), (120, -.0288), (122, -.029), (124, -.0283), (125, -.029), (126, -.0283), (128, -.0272), (130, -.0272), (133, -.025), (136, -.022), (137, -.0215), (140, -.0195), (142, -.018), (145, -.0162), (148, -.0135), (152, -.0115), (155, -.0093), (160, -.0065), (164, -.0048), (167, -.0028), (170, -.0022), (175, -.0012), (177, -.0012), (180, -.001)]
I_RED = [(1, 0), (54, 0), (55, -.0001), (57, -.0015), (59, -.0045), (61, -.008), (63, -.012), (65, -.0148), (67, -.0165), (68, -.0168), (69, -.0165), (70, -.016), (72, -.0135), (74, -.011), (76, -.0088), (78, -.0072), (80, -.0062), (81, -.0059), (82, -.009), (83, -.0075), (85, -.005), (88, -.004), (92, -.0032), (97, -.0024), (102, -.0018), (108, -.0012), (115, -.0009), (130, -.0004), (150, -.0002), (180, 0)]
I_BLUE = [(1, 0), (45, 0), (50, -.0003), (55, -.001), (60, -.0017), (62, -.0022), (64, -.0035), (66, -.0075), (67, -.0115), (68, -.016), (69, -.02), (70, -.0225), (72, -.025), (74, -.0262), (75, -.0265), (76, -.0262), (78, -.024), (80, -.0205), (82, -.018), (84, -.0155), (87, -.0135), (90, -.012), (93, -.011), (97, -.0106), (105, -.0103), (115, -.0099), (118, -.0096), (120, -.0096), (125, -.0088), (130, -.0078), (133, -.0071), (135, -.0066), (138, -.0065), (145, -.0058), (155, -.0048), (165, -.0035), (175, -.0023), (180, -.0016)]
I_BROWN = [(1, 0), (45, -.0001), (50, -.0005), (55, -.0012), (60, -.0018), (62, -.0019), (65, -.0014), (70, -.0006), (75, -.0002), (85, 0), (180, 0)]

BLACK, BLUE, RED, GREEN, CYAN, BROWN = "#000000", "#0000FF", "#FF0000", "#00FF00", "#00FFFF", "#A52A2A"


def text_layer(s, x, y, size, align="center", angle=0):
    return alt.Chart(pd.DataFrame({"s": [s]})).mark_text(
        font=FONT, fontSize=size, align=align, baseline="middle", color="black", angle=angle
    ).encode(x=alt.value(x), y=alt.value(y), text="s:N")


def axis_layers(xs, ys, xmaj, xmin, ymaj, ymin, xtitle, ytitle, top_off, bot_off, left_off, yfmt, lab=34, ttl=45, ypad=26, ytitlepad=28, xtitlepad=18):
    base = pd.DataFrame({"t": [xs.domain[0]], "z": [ys.domain[0]]})
    mk = alt.Chart(base).mark_point(opacity=0)
    dk, gr = "#1a1a1a", "#8a8a8a"
    common = dict(grid=False, zindex=1, domainColor=dk, domainWidth=2)
    out = []
    out.append(mk.encode(x=alt.X("t:Q", scale=xs, axis=alt.Axis(orient="bottom", values=xmaj, tickSize=22, tickWidth=2, tickColor=dk, labelFont=FONT, labelFontSize=lab, labelColor="black", labelPadding=20, format="d", labelFlush=False, labelOverlap=False, title=xtitle, titleFont=FONT, titleFontSize=ttl, titleFontWeight="normal", titleColor="black", titlePadding=xtitlepad, offset=bot_off, **common)), y=alt.Y("z:Q", scale=ys, axis=None)))
    out.append(mk.encode(x=alt.X("t:Q", scale=xs, axis=alt.Axis(orient="bottom", values=xmin, tickSize=11, tickWidth=2, tickColor=gr, labels=False, domain=False, title=None, offset=bot_off, grid=False, zindex=1)), y=alt.Y("z:Q", scale=ys, axis=None)))
    out.append(mk.encode(x=alt.X("t:Q", scale=xs, axis=alt.Axis(orient="top", values=xmaj, tickSize=22, tickWidth=2, tickColor=dk, labels=False, title=None, offset=top_off, **common)), y=alt.Y("z:Q", scale=ys, axis=None)))
    out.append(mk.encode(x=alt.X("t:Q", scale=xs, axis=alt.Axis(orient="top", values=xmin, tickSize=11, tickWidth=2, tickColor=gr, labels=False, domain=False, title=None, offset=top_off, grid=False, zindex=1)), y=alt.Y("z:Q", scale=ys, axis=None)))
    out.append(mk.encode(y=alt.Y("z:Q", scale=ys, axis=alt.Axis(orient="left", values=ymaj, tickSize=21, tickWidth=2, tickColor=dk, labelFont=FONT, labelFontSize=lab, labelColor="black", labelPadding=ypad, labelExpr=yfmt, labelOverlap=False, title=ytitle, titleFont=FONT, titleFontSize=ttl, titleFontWeight="normal", titleColor="black", titlePadding=ytitlepad, offset=left_off, **common)), x=alt.X("t:Q", scale=xs, axis=None)))
    out.append(mk.encode(y=alt.Y("z:Q", scale=ys, axis=alt.Axis(orient="left", values=ymin, tickSize=11, tickWidth=2, tickColor=gr, labels=False, domain=False, title=None, offset=left_off, grid=False, zindex=1)), x=alt.X("t:Q", scale=xs, axis=None)))
    out.append(mk.encode(y=alt.Y("z:Q", scale=ys, axis=alt.Axis(orient="right", values=ymaj, tickSize=21, tickWidth=2, tickColor=dk, labels=False, title=None, **common)), x=alt.X("t:Q", scale=xs, axis=None)))
    out.append(mk.encode(y=alt.Y("z:Q", scale=ys, axis=alt.Axis(orient="right", values=ymin, tickSize=11, tickWidth=2, tickColor=gr, labels=False, domain=False, title=None, grid=False, zindex=1)), x=alt.X("t:Q", scale=xs, axis=None)))
    return out


def poly_frames(lev, top, bot):
    tt, tz = zip(*top)
    bt, bz = zip(*bot)
    ts = sorted(set(tt) | set(bt))
    rows = []
    for t in ts:
        his = [z for a, z in top if a == t] or [float(np.interp(t, tt, tz))]
        los = [z for a, z in bot if a == t] or [float(np.interp(t, bt, bz))]
        for k in range(max(len(his), len(los))):
            rows.append(dict(t=t, hi=his[min(k, len(his) - 1)], lo=los[min(k, len(los) - 1)]))
    edges = []
    for side, edge in (("a", top), ("b", bot)):
        seg = 0
        for j, (t, z) in enumerate(edge):
            if j and edge[j - 1][0] == t:
                seg += 1
            edges.append(dict(s=f"{side}{seg}", i=j, t=t, z=z))
    return pd.DataFrame(rows), pd.DataFrame(edges)


def contour_panel(polys, labels, title, unit, pw, h, y_top, y_bot, title_y, unit_y, x_off=0, tsize=45, lab=34, lsize=22, ytp=28):
    w = x_off + pw
    xs = alt.Scale(domain=[0, T_END], range=[x_off, w], nice=False, zero=False)
    ys = alt.Scale(domain=[Z0, 13590], range=[y_bot, y_top], nice=False, zero=False)
    layers = []
    for lev, top, bot in polys:
        fr, ed = poly_frames(lev, top, bot)
        layers.append(alt.Chart(fr).mark_area(color=LEVEL[lev], opacity=1, interpolate="linear").encode(
            x=alt.X("t:Q", scale=xs, axis=None), y=alt.Y("hi:Q", scale=ys, axis=None), y2=alt.Y2("lo:Q")))
        layers.append(alt.Chart(ed).mark_line(color="#3c3c3c", strokeWidth=1.2).encode(
            x=alt.X("t:Q", scale=xs, axis=None), y=alt.Y("z:Q", scale=ys, axis=None), detail="s:N", order="i:Q"))
    temp = pd.DataFrame([dict(k=k, i=i, t=t, z=z) for k, v in TEMP.items() for i, (t, z) in enumerate(v) if k != 0])
    zero = pd.DataFrame([dict(i=i, t=t, z=z) for i, (t, z) in enumerate(TEMP[0])])
    layers.append(alt.Chart(temp).mark_line(color="black", strokeWidth=2.8).encode(
        x=alt.X("t:Q", scale=xs, axis=None), y=alt.Y("z:Q", scale=ys, axis=None), detail="k:N", order="i:Q"))
    layers.append(alt.Chart(zero).mark_line(color="black", strokeWidth=6).encode(
        x=alt.X("t:Q", scale=xs, axis=None), y=alt.Y("z:Q", scale=ys, axis=None), order="i:Q"))
    rows = []
    for k, t in labels:
        a, b = zip(*TEMP[k])
        z = float(np.interp(t, a, b))
        dt = 4.2 if abs(k) >= 10 else (3.3 if k < 0 else 2.5)
        rows.append(dict(s=str(k), t=t, z=z, t0=t - dt, t1=t + dt, z0=z - 210, z1=z + 210))
    lab_df = pd.DataFrame(rows)
    layers.append(alt.Chart(lab_df).mark_rect(color="white").encode(
        x=alt.X("t0:Q", scale=xs, axis=None), x2="t1:Q", y=alt.Y("z0:Q", scale=ys, axis=None), y2="z1:Q"))
    layers.append(alt.Chart(lab_df).mark_text(font=FONT, fontSize=lsize, color="black", baseline="middle").encode(
        x=alt.X("t:Q", scale=xs, axis=None), y=alt.Y("z:Q", scale=ys, axis=None), text="s:N"))
    ymaj = [2000, 4000, 6000, 8000, 10000, 12000]
    ymin = [v for v in range(500, 13600, 500) if v not in ymaj]
    layers += axis_layers(xs, ys, [0, 30, 60, 90, 120, 150], [10, 20, 40, 50, 70, 80, 100, 110, 130, 140, 160, 170],
                          ymaj, ymin, "Time [min]", "Height [m]", -y_top, y_bot - h, -x_off, "format(datum.value,'d')", lab=lab, ttl=tsize, ytitlepad=ytp, xtitlepad=24)
    layers.append(text_layer(title, x_off + pw / 2, title_y, tsize))
    layers.append(text_layer(unit, w + 2, unit_y, 36, align="right"))
    return alt.layer(*layers).resolve_axis(x="independent", y="independent").properties(width=w, height=h)


def colorbar(colors, labels, W, gap, bar, h, top, bottom, label_dx, size=35):
    n = len(colors)
    per = (bottom - top) / n
    dom = [(bottom - h) / per, bottom / per]
    xs = alt.Scale(domain=[0, W], range=[0, W], nice=False, zero=False)
    ys = alt.Scale(domain=dom, range=[h, 0], nice=False, zero=False)
    cells = pd.DataFrame(dict(a=[gap] * n, b=[gap + bar] * n, y0=list(range(n)), y1=[v + 1 for v in range(n)], c=colors))
    labs = pd.DataFrame(dict(x=[gap + bar + label_dx] * len(labels), y=list(range(1, len(labels) + 1)), s=labels))
    l1 = alt.Chart(cells).mark_rect(stroke="#555555", strokeWidth=1.6).encode(
        x=alt.X("a:Q", scale=xs, axis=None), x2="b:Q", y=alt.Y("y0:Q", scale=ys, axis=None), y2="y1:Q", color=alt.Color("c:N", scale=None))
    l2 = alt.Chart(labs).mark_text(font=FONT, fontSize=size, color="black", baseline="middle").encode(
        x=alt.X("x:Q", scale=xs, axis=None), y=alt.Y("y:Q", scale=ys, axis=None), text="s:N")
    return alt.layer(l1, l2).properties(width=W, height=h)


def spacer(w, h):
    return alt.Chart(pd.DataFrame({"a": [0]})).mark_point(opacity=0).encode(x=alt.value(0), y=alt.value(0)).properties(width=w, height=h)


def budget_panel(series, dom, ymaj, ymin, title, ytitle, legend, origin, x_off, top, pw=779, h=778.5, ytp=28):
    w = x_off + pw
    xs = alt.Scale(domain=[0, 180], range=[x_off, w], nice=False, zero=False)
    ys = alt.Scale(domain=dom, range=[h, 0], nice=False, zero=False)
    layers = []
    for pts, col in series:
        df = pd.DataFrame([dict(i=i, t=t, z=v) for i, (t, v) in enumerate(pts)])
        layers.append(alt.Chart(df).mark_line(color=col, strokeWidth=3.6).encode(
            x=alt.X("t:Q", scale=xs, axis=None), y=alt.Y("z:Q", scale=ys, axis=None), order="i:Q"))
    layers += axis_layers(xs, ys, [0, 30, 60, 90, 120, 150, 180],
                          [10, 20, 40, 50, 70, 80, 100, 110, 130, 140, 160, 170], ymaj, ymin, "Time [min]", ytitle, 0, 0, -x_off,
                          "(datum.value<0?'-':'')+format(abs(datum.value),'.3f')", lab=34, ttl=44, ypad=26, ytitlepad=ytp)
    layers.append(text_layer(title, x_off + pw / 2, -71, 44))
    for name, col, x0, x1, y, tx, ty, size in legend:
        layers.append(alt.Chart(pd.DataFrame({"a": [0]})).mark_rule(color=col, strokeWidth=3.2).encode(
            x=alt.value(x0 - origin), x2=alt.value(x1 - origin), y=alt.value(y - top)))
        layers.append(text_layer(name, tx - origin, ty - top, size, align="left"))
    return alt.layer(*layers).resolve_axis(x="independent", y="independent").properties(width=w, height=h)


NB = "\u00a0\u00a0\u00a0"
R1H, R2H, R3H = 816, 802, 779
a = contour_panel(POLY_A, TL_A, f"a){NB}Ice saturation in SCW", "%", 815, R1H, 0, 816, -93, -38, x_off=4, tsize=46, lab=35, lsize=24, ytp=17)
b = contour_panel(POLY_B, TL_B, f"b){NB}Cloud ice in SCW", "g/kg", 802, R1H, 12, 814, -93, -33)
c = contour_panel(POLY_C, TL_C, f"c){NB}Cloud droplets in SCW", "g/kg", 802, R1H, 12, 814, -93, -33, ytp=34)
d = contour_panel(POLY_D, TL_D, f"d){NB}Graupel in SCW", "g/kg", 802, R2H, 0, 802, -115, -45, ytp=18)
e = contour_panel(POLY_E, TL_E, f"e){NB}Snow in SCW", "g/kg", 802, R2H, 0, 802, -115, -45)
f = contour_panel(POLY_F, TL_F, f"f){NB}Rain in SCW", "g/kg", 802, R2H, 0, 802, -115, -45, ytp=34)

cb_a = colorbar(LEVEL, LAB_A, 481, 68, 49, R1H, 9, 808, 42, size=37)
cb_b = colorbar(CB_B, LAB_B, 499, 54, 48, R1H, 19, 806, 66)
cb_c = colorbar(LEVEL, LAB_C, 102, 54, 48, R1H, 19, 806, 59)
cb_d = colorbar(LEVEL, LAB_C, 481, 37, 47, R2H, 8, 794, 67)
cb_e = colorbar(LEVEL, LAB_C, 499, 54, 48, R2H, 8, 794, 66)
cb_f = colorbar(LEVEL, LAB_C, 102, 54, 48, R2H, 8, 794, 59)

YMIN_G = [round(-.01 + .002 * i, 3) for i in range(36) if i % 5]
g = budget_panel([(G_GREEN, GREEN), (G_BLUE, BLUE), (G_BROWN, BROWN), (G_CYAN, CYAN), (G_RED, RED)],
                 [-.01, .06], [round(-.01 + .01 * i, 2) for i in range(8)], YMIN_G,
                 f"g){NB}Budget rain in SCW", "g/kg/s",
                 [("Autoconversion", BROWN, 46, 98, 3624, 104, 3625, 40.5),
                  ("Accretion of cloud droplets", BLUE, 46, 98, 3683, 104, 3680, 40.5),
                  ("Graupel melting", GREEN, 46, 98, 3735, 102.5, 3733, 40.5),
                  ("Graupel collecting rain", RED, 637, 700, 3647, 706, 3645, 38),
                  ("Rain accreting snow", CYAN, 637, 700, 3717, 705, 3715, 38)], 220, 16.5, 2631, ytp=24)
YMIN_H = [round(-.04 + .002 * i, 3) for i in range(36) if i % 5]
h = budget_panel([(H_GREEN, GREEN), (H_BLACK, BLACK), (H_BLUE, BLUE), (H_RED, RED), (H_CYAN, CYAN)],
                 [-.04, .03], [round(-.04 + .01 * i, 2) for i in range(8)], YMIN_H,
                 f"h){NB}Budget snow in SCW", "g/kg/s",
                 [("Ice converting to snow", RED, 1336, 1383, 3623, 1385, 3621, 39.5),
                  ("Vapor deposition/sublimation", BLUE, 1336, 1383, 3683, 1387, 3680, 39.5),
                  ("Collection of cloud water", BLACK, 1336, 1383, 3735, 1386, 3733, 39.5),
                  ("Rain accreting snow", CYAN, 1970, 2048, 3638, 2054, 3636, 42.3),
                  ("Snow melting", GREEN, 1970, 2048, 3726, 2055, 3724, 42.3)], 1520, 17, 2631)
YMIN_I = [round(-.06 + .002 * i, 3) for i in range(31) if i % 5]
i_ = budget_panel([(I_BLACK, BLACK), (I_BLUE, BLUE), (I_RED, RED), (I_BROWN, BROWN)],
                  [-.06, 0], [round(-.06 + .01 * i, 2) for i in range(7)], YMIN_I,
                  f"i){NB}Budget cloud droplets in SCW", "g/kg/s",
                  [("Accretion by rain", BLUE, 2676, 2746, 3653, 2755, 3651, 42.5),
                   ("Collection by graupel", RED, 2676, 2746, 3712, 2753, 3710, 42.5),
                   ("Autoconversion", BROWN, 3250, 3317, 3653, 3325, 3654, 42.5),
                   ("Collection by snow", BLACK, 3250, 3317, 3712, 3324, 3710, 42.5)], 2821, 16.6, 2631)

cells = [
    a, cb_a, b, cb_b, c, cb_c,
    *[spacer(1, 497)] * 6,
    d, cb_d, e, cb_e, f, cb_f,
    *[spacer(1, 387.4)] * 6,
    g, spacer(1, R3H), h, spacer(1, R3H), i_, spacer(1, R3H),
]

chart = alt.concat(*cells, columns=6, spacing=0, bounds="flush").properties(
    padding={"left": 4.5, "top": 7, "right": 2, "bottom": 0}, background="white"
).configure_view(stroke=None)

chart.save("out.html", embed_options={"renderer": "svg", "actions": False})
